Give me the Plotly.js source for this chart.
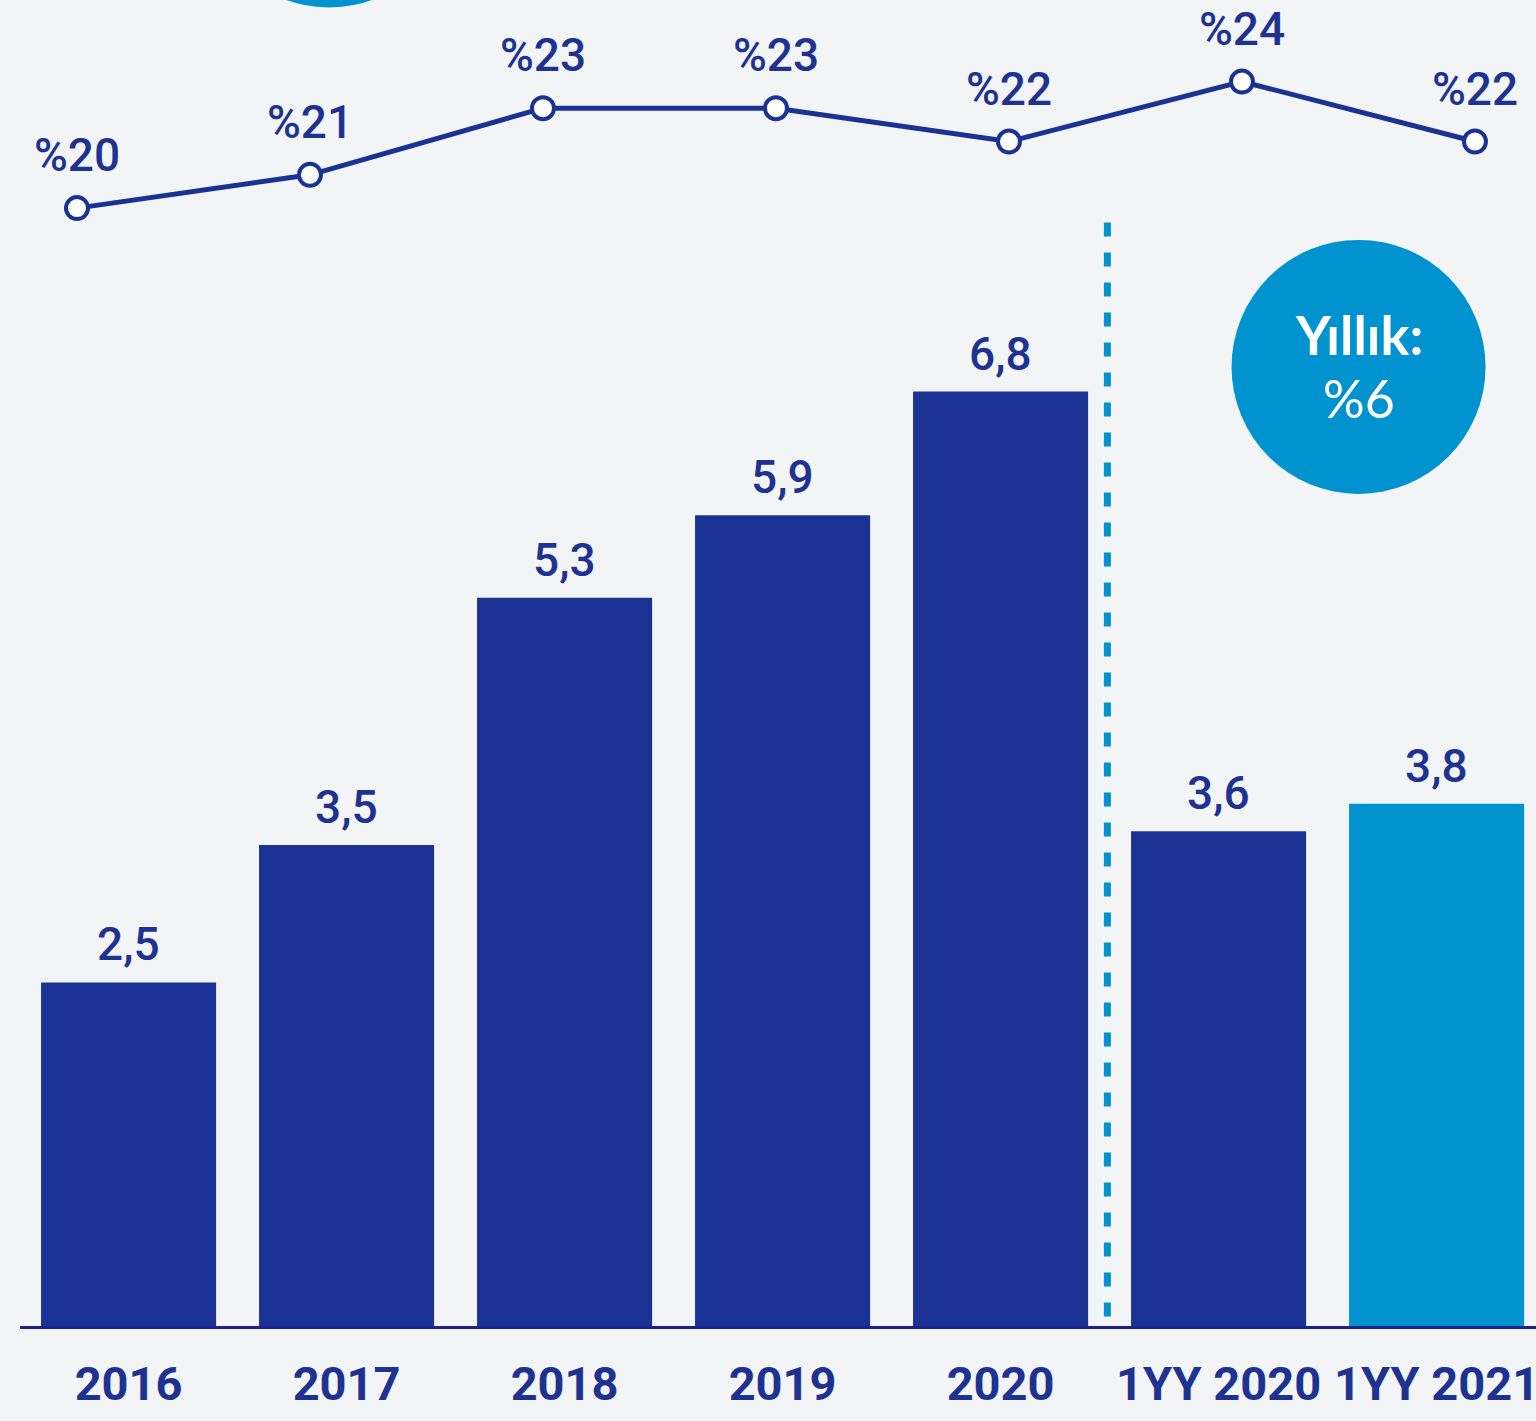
<!DOCTYPE html>
<html>
<head>
<meta charset="utf-8">
<script src="https://cdn.plot.ly/plotly-3.0.1.min.js"></script>
<style>
  html, body { margin: 0; padding: 0; background: #f3f4f6; }
  #chart { width: 1536px; height: 1421px; }
</style>
</head>
<body>
<div id="chart"></div>
<script>
// categories and values
const categories = ["2016", "2017", "2018", "2019", "2020", "1YY 2020", "1YY 2021"];
const barValues = [2.5, 3.5, 5.3, 5.9, 6.8, 3.6, 3.8];
const barLabels = ["2,5", "3,5", "5,3", "5,9", "6,8", "3,6", "3,8"];
const shareValues = [20, 21, 23, 23, 22, 23.8, 22];
const shareLabels = ["%20", "%21", "%23", "%23", "%22", "%24", "%22"];
const bubbleTitle = "Yıllık:";
const bubbleValue = "%6";

const NAVY = "#1a3294";
const BLUE = "#0093d0";
const TEXT = "#1e3391";
const FONT = "Roboto, 'Liberation Sans', sans-serif";

const barColors = categories.map((c, i) => i === categories.length - 1 ? BLUE : NAVY);

const bars = {
  type: "bar",
  x: categories,
  y: barValues,
  marker: { color: barColors },
  hoverinfo: "skip",
  xaxis: "x",
  yaxis: "y"
};

// the line sits on its own axes (its points are spaced wider than the bars)
const lineIdx = categories.map((c, i) => i);
const line = {
  type: "scatter",
  mode: "lines+markers",
  x: lineIdx,
  y: shareValues,
  line: { color: NAVY, width: 5 },
  marker: { size: 22, color: "#ffffff", line: { color: NAVY, width: 4 } },
  hoverinfo: "skip",
  xaxis: "x2",
  yaxis: "y2"
};

const annotations = [];
categories.forEach((c, i) => {
  // category names like "2016" look numeric, so place by index
  annotations.push({
    x: i, y: barValues[i], xref: "x", yref: "y",
    text: barLabels[i], showarrow: false,
    yanchor: "bottom", yshift: 9,
    font: { family: FONT, size: 46, color: TEXT, weight: 500 }
  });
  annotations.push({
    x: i, y: shareValues[i], xref: "x2", yref: "y2",
    text: shareLabels[i], showarrow: false,
    yanchor: "middle", yshift: 53,
    font: { family: FONT, size: 46, color: TEXT, weight: 500 }
  });
});

// bubble text
annotations.push({
  x: 5.642, y: 6.98, xref: "x", yref: "y", showarrow: false,
  text: bubbleTitle, yshift: 32,
  font: { family: "Lato, 'Open Sans', sans-serif", size: 54, color: "#ffffff", weight: 700 }
});
annotations.push({
  x: 5.642, y: 6.98, xref: "x", yref: "y", showarrow: false,
  text: bubbleValue, yshift: -31,
  font: { family: "Lato, 'Open Sans', sans-serif", size: 52, color: "#ffffff", weight: 400 }
});

const shapes = [
  // dotted separator between annual and half-year figures (drawn top-down)
  {
    type: "line", xref: "x", yref: "y",
    x0: 4.49, x1: 4.49, y0: 8.03, y1: 0,
    line: { color: BLUE, width: 7, dash: "14px,16px" },
    layer: "below"
  },
  // "Yıllık" bubble
  {
    type: "circle", xref: "x", yref: "y",
    xsizemode: "pixel", ysizemode: "pixel",
    xanchor: 5.642, yanchor: 6.98,
    x0: -127, x1: 127, y0: -127, y1: 127,
    fillcolor: BLUE, line: { width: 0 }, layer: "above"
  },
  // partially visible bubble at the top edge
  {
    type: "circle", xref: "x", yref: "y",
    xsizemode: "pixel", ysizemode: "pixel",
    xanchor: 0.92, yanchor: 10.52,
    x0: -127, x1: 127, y0: -127, y1: 127,
    fillcolor: BLUE, line: { width: 0 }, layer: "above"
  }
];

const layout = {
  width: 1536,
  height: 1421,
  margin: { l: 20, r: 0, t: 0, b: 95 },
  paper_bgcolor: "#f3f4f6",
  plot_bgcolor: "#f3f4f6",
  showlegend: false,
  bargap: 0.197,
  xaxis: {
    type: "category",
    range: [-0.498, 6.456],
    showgrid: false, zeroline: false,
    showline: true, linecolor: "#1b2290", linewidth: 3,
    ticks: "", ticklen: 0,
    ticklabelstandoff: 15,
    tickfont: { family: FONT, size: 47, color: TEXT, weight: 700 },
    fixedrange: true
  },
  yaxis: {
    range: [0, 9.65],
    visible: false, showgrid: false, zeroline: false,
    fixedrange: true
  },
  xaxis2: {
    overlaying: "x",
    range: [-0.2446, 6.262],
    visible: false, showgrid: false, zeroline: false,
    fixedrange: true
  },
  yaxis2: {
    overlaying: "y",
    range: [-13.57, 26.25],
    visible: false, showgrid: false, zeroline: false,
    fixedrange: true
  },
  shapes: shapes,
  annotations: annotations
};

Plotly.newPlot("chart", [bars, line], layout, { displayModeBar: false, staticPlot: true });
</script>
</body>
</html>
